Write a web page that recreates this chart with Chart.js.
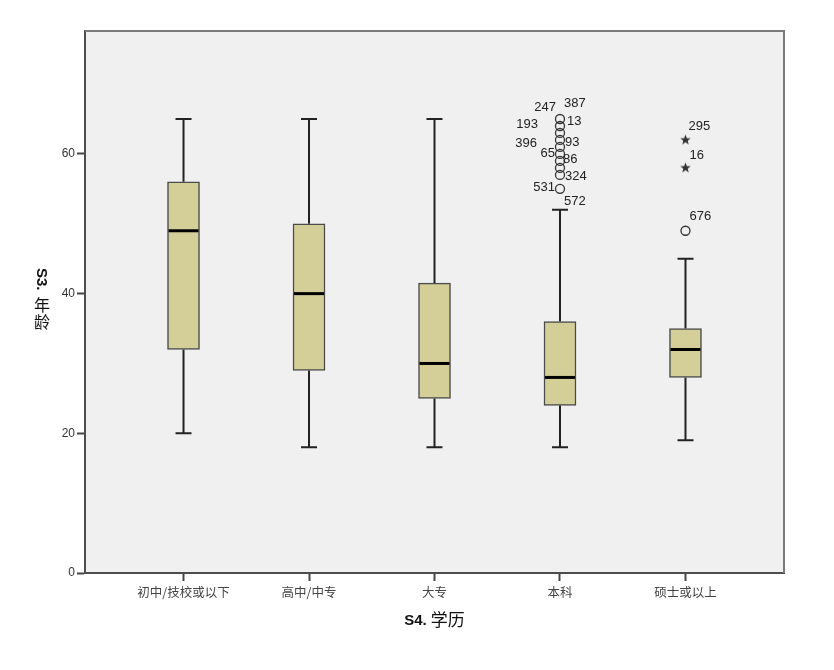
<!DOCTYPE html>
<html>
<head>
<meta charset="utf-8">
<script src="https://cdn.jsdelivr.net/npm/chart.js@4.4.1/dist/chart.umd.min.js"></script>
<style>
    html, body { margin: 0; padding: 0; background: #ffffff; }
    #wrap { width: 834px; height: 670px; }
</style>
</head>
<body>
<div id="wrap"><canvas id="boxChart" width="834" height="670"></canvas></div>
<script>
// data
const categories = ["初中/技校或以下", "高中/中专", "大专", "本科", "硕士或以上"];
const whiskerLow = [20, 18, 18, 18, 19];
const quartile1 = [32, 29, 25, 24, 28];
const medians = [49, 40, 30, 28, 32];
const quartile3 = [56, 50, 41.5, 36, 35];
const whiskerHigh = [65, 65, 65, 52, 45];

// circles (outliers) and stars (extremes): category number 1..5 and value
const outlierCategory = [4, 4, 4, 4, 4, 4, 4, 4, 4, 4, 5];
const outlierValue = [65, 64, 63, 62, 61, 60, 59, 58, 57, 55, 49];
const extremeCategory = [5, 5];
const extremeValue = [62, 58];

// case numbers printed next to the points
const caseText = ["247", "387", "13", "193", "93", "396", "65", "86", "324", "531", "572", "295", "16", "676"];
const caseCategory = [4, 4, 4, 4, 4, 4, 4, 4, 4, 4, 4, 5, 5, 5];
const caseValue = [65, 65, 65, 64, 62, 62, 60, 59, 57, 55, 55, 62, 58, 49];

const yTicks = [0, 20, 40, 60];
const yMax = 77.6;

// label placement (pixels from the point): dx, dy, text align
const caseOffset = [
    [-4, -12, "right"], [4, -16, "left"], [7, 2, "left"], [-22, -2, "right"],
    [5, 2, "left"], [-23, 3, "right"], [-5, -1, "right"], [3, -1, "left"],
    [5, 2, "left"], [-5, -1, "right"], [4, 13, "left"],
    [3, -14, "left"], [4, -12, "left"], [4, -14, "left"]
];

const LATIN = "'Liberation Sans', Arial, 'Noto Sans CJK SC', sans-serif";
const CJK = "'Noto Sans CJK SC', 'Liberation Sans', sans-serif";

// small filled star used for the extreme values
function makeStar() {
    const c = document.createElement("canvas");
    c.width = 13;
    c.height = 13;
    const g = c.getContext("2d");
    g.fillStyle = "#333333";
    g.beginPath();
    for (let i = 0; i < 10; i++) {
        const r = i % 2 === 0 ? 5.5 : 2.3;
        const a = -Math.PI / 2 + i * Math.PI / 5;
        const px = 6.5 + r * Math.cos(a);
        const py = 6.5 + r * Math.sin(a);
        if (i === 0) g.moveTo(px, py); else g.lineTo(px, py);
    }
    g.closePath();
    g.fill();
    return c;
}

const boxParts = {
    id: "boxParts",
    beforeDraw(chart) {
        const a = chart.chartArea;
        const ctx = chart.ctx;
        ctx.save();
        ctx.fillStyle = "#f0f0f0";
        ctx.fillRect(a.left, a.top, a.right - a.left, a.bottom - a.top);
        ctx.restore();
    },
    beforeDatasetsDraw(chart) {
        const ctx = chart.ctx;
        const x = chart.scales.x;
        const y = chart.scales.y;
        ctx.save();
        ctx.strokeStyle = "#222222";
        ctx.lineWidth = 2;
        categories.forEach((c, i) => {
            const px = x.getPixelForValue(i + 1);
            const lo = y.getPixelForValue(whiskerLow[i]);
            const hi = y.getPixelForValue(whiskerHigh[i]);
            const b = y.getPixelForValue(quartile1[i]);
            const t = y.getPixelForValue(quartile3[i]);
            ctx.beginPath();
            ctx.moveTo(px, lo); ctx.lineTo(px, b);
            ctx.moveTo(px, t); ctx.lineTo(px, hi);
            ctx.moveTo(px - 8, lo); ctx.lineTo(px + 8, lo);
            ctx.moveTo(px - 8, hi); ctx.lineTo(px + 8, hi);
            ctx.stroke();
        });
        ctx.restore();
    },
    afterDatasetsDraw(chart) {
        const ctx = chart.ctx;
        const x = chart.scales.x;
        const y = chart.scales.y;
        ctx.save();
        ctx.strokeStyle = "#000000";
        ctx.lineWidth = 3;
        categories.forEach((c, i) => {
            const px = x.getPixelForValue(i + 1);
            const py = y.getPixelForValue(medians[i]);
            ctx.beginPath();
            ctx.moveTo(px - 15, py);
            ctx.lineTo(px + 15, py);
            ctx.stroke();
        });
        // case numbers
        ctx.fillStyle = "#222222";
        ctx.font = "13px " + LATIN;
        ctx.textBaseline = "middle";
        caseText.forEach((t, i) => {
            const px = x.getPixelForValue(caseCategory[i]);
            const py = y.getPixelForValue(caseValue[i]);
            ctx.textAlign = caseOffset[i][2];
            ctx.fillText(t, px + caseOffset[i][0], py + caseOffset[i][1]);
        });
        ctx.restore();
    },
    afterDraw(chart) {
        const a = chart.chartArea;
        const ctx = chart.ctx;
        ctx.save();
        // top and right frame
        ctx.strokeStyle = "#7a7a7a";
        ctx.lineWidth = 2;
        ctx.beginPath();
        ctx.moveTo(a.left, a.top);
        ctx.lineTo(a.right, a.top);
        ctx.lineTo(a.right, a.bottom);
        ctx.stroke();

        // x title: "S4. 学历"
        ctx.fillStyle = "#111111";
        ctx.textBaseline = "middle";
        ctx.textAlign = "left";
        const f1 = "bold 15px " + LATIN;
        const f2 = "17px " + CJK;
        ctx.font = f1;
        const w1 = ctx.measureText("S4. ").width;
        ctx.font = f2;
        const w2 = ctx.measureText("学历").width;
        let sx = (a.left + a.right) / 2 - (w1 + w2) / 2;
        ctx.font = f1;
        ctx.fillText("S4. ", sx, 621);
        ctx.font = f2;
        ctx.fillText("学历", sx + w1, 620);

        // y title: "S3." turned, 年龄 stacked upright
        ctx.save();
        ctx.translate(41, 268);
        ctx.rotate(Math.PI / 2);
        ctx.font = "bold 15px " + LATIN;
        ctx.textAlign = "left";
        ctx.fillText("S3.", 0, 0);
        ctx.restore();
        ctx.font = "16px " + CJK;
        ctx.textAlign = "center";
        ctx.fillText("年", 42, 305);
        ctx.fillText("龄", 42, 322);
        ctx.restore();
    }
};

const boxData = categories.map((c, i) => ({ x: i + 1, y: [quartile1[i], quartile3[i]] }));
const outlierPoints = outlierCategory.map((c, i) => ({ x: c, y: outlierValue[i] }));
const extremePoints = extremeCategory.map((c, i) => ({ x: c, y: extremeValue[i] }));

new Chart(document.getElementById("boxChart"), {
    type: "bar",
    data: {
        datasets: [
            {
                type: "bar",
                label: "box",
                data: boxData,
                backgroundColor: "#d4cf99",
                borderColor: "#4a4a4a",
                borderWidth: 1.5,
                borderSkipped: false,
                barThickness: 32
            },
            {
                type: "scatter",
                label: "outliers",
                data: outlierPoints,
                pointStyle: "circle",
                pointRadius: 4.5,
                pointBorderWidth: 1.3,
                pointBorderColor: "#333333",
                pointBackgroundColor: "rgba(0,0,0,0)"
            },
            {
                type: "scatter",
                label: "extremes",
                data: extremePoints,
                pointStyle: makeStar(),
                pointRadius: 6
            }
        ]
    },
    options: {
        responsive: false,
        animation: false,
        layout: { padding: { top: 31, right: 50, left: 0, bottom: 0 } },
        plugins: {
            legend: { display: false },
            tooltip: { enabled: false }
        },
        scales: {
            x: {
                type: "linear",
                min: 0.215,
                max: 5.785,
                offset: false,
                afterFit: s => { s.height = 97; },
                afterBuildTicks: s => { s.ticks = categories.map((c, i) => ({ value: i + 1 })); },
                grid: { drawOnChartArea: false, drawTicks: true, tickLength: 8, tickColor: "#444444", tickWidth: 2, offset: false },
                border: { display: true, color: "#4d4d4d", width: 2 },
                ticks: {
                    autoSkip: false,
                    maxRotation: 0,
                    padding: 4,
                    color: "#444444",
                    font: { family: CJK, size: 12.5 },
                    callback: v => categories[v - 1]
                }
            },
            y: {
                type: "linear",
                min: 0,
                max: yMax,
                afterFit: s => { s.width = 85; },
                afterBuildTicks: s => { s.ticks = yTicks.map(v => ({ value: v })); },
                grid: { drawOnChartArea: false, drawTicks: true, tickLength: 8, tickColor: "#444444", tickWidth: 2 },
                border: { display: true, color: "#4d4d4d", width: 2 },
                ticks: {
                    padding: 2,
                    color: "#333333",
                    font: { family: LATIN, size: 12 }
                }
            }
        }
    },
    plugins: [boxParts]
});
</script>
</body>
</html>
